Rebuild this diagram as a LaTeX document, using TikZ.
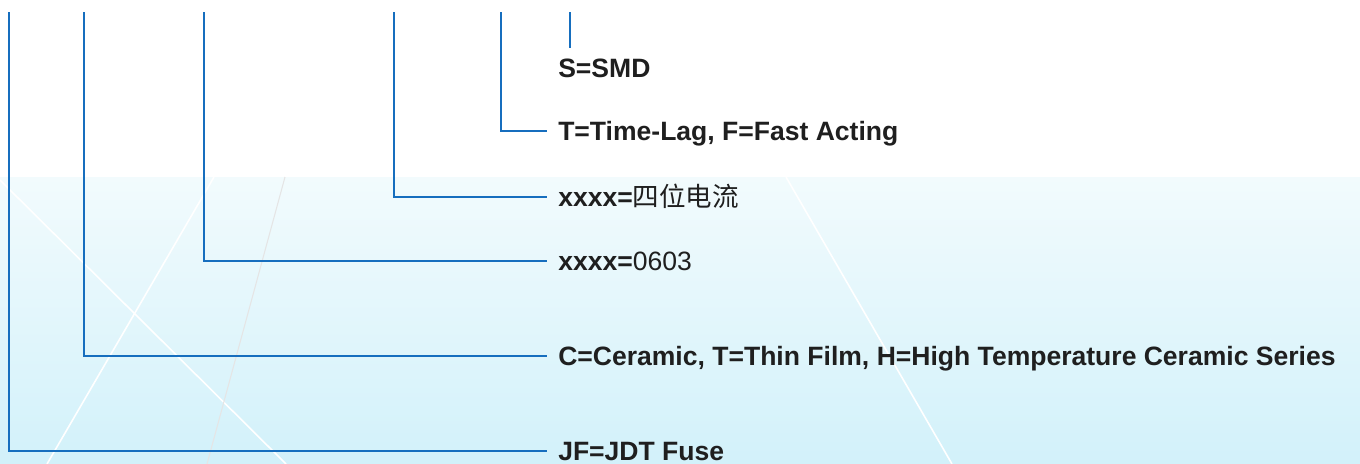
\documentclass[tikz,border=0pt]{standalone}
\usepackage{fontspec}
\setmainfont{Liberation Sans}
\newfontfamily\cjkfont{Noto Sans CJK SC}

\definecolor{leadblue}{RGB}{22,110,190}
\definecolor{bgtop}{RGB}{242,251,253}
\definecolor{bgbot}{RGB}{210,241,250}

\begin{document}
\begin{tikzpicture}[x=0.75pt,y=-0.75pt,
    leader/.style={line width=1.8pt, color=leadblue},
    code/.style={anchor=west, inner sep=0pt, text height=14.3pt, text depth=0pt,
        text=black!88, font=\fontsize{19.9}{24}\selectfont\bfseries},
    glint/.style={white, line width=1.2pt}]
    \useasboundingbox (0,0) rectangle (1360,464);

    % background
    \fill[white] (0,0) rectangle (1360,177);
    \shade[top color=bgtop, bottom color=bgbot] (0,177) rectangle (1360,464);
    \draw[glint] (0,180) -- (286,464);
    \draw[glint] (214,177) -- (47,464);
    \draw[glint] (786,177) -- (952,464);
    \draw[black!10, line width=0.8pt] (285,177) -- (207,464);

    % code fields
    \node[code] (smd)  at (558,68)  {S=SMD};
    \node[code] (lag)  at (558,131) {T=Time-Lag, F=Fast Acting};
    \node[code] (amp)  at (558,197) {xxxx={\cjkfont\mdseries 四位电流}};
    \node[code] (size) at (558,261) {xxxx={\mdseries 0603}};
    \node[code] (mat)  at (558,356) {C=Ceramic, T=Thin Film, H=High Temperature Ceramic Series};
    \node[code] (fuse) at (558,451) {JF=JDT Fuse};

    % leaders
    \coordinate (s0) at (570,12);
    \coordinate (s1) at (570,48);
    \coordinate (t0) at (501,12);
    \coordinate (a0) at (394,12);
    \coordinate (z0) at (204,12);
    \coordinate (m0) at (84,12);
    \coordinate (f0) at (9,12);

    \draw[leader] (s0) -- (s1);
    \draw[leader] (t0) |- ([xshift=-8.2pt]lag.west);
    \draw[leader] (a0) |- ([xshift=-8.2pt]amp.west);
    \draw[leader] (z0) |- ([xshift=-8.2pt]size.west);
    \draw[leader] (m0) |- ([xshift=-8.2pt]mat.west);
    \draw[leader] (f0) |- ([xshift=-8.2pt]fuse.west);

\end{tikzpicture}
\end{document}
